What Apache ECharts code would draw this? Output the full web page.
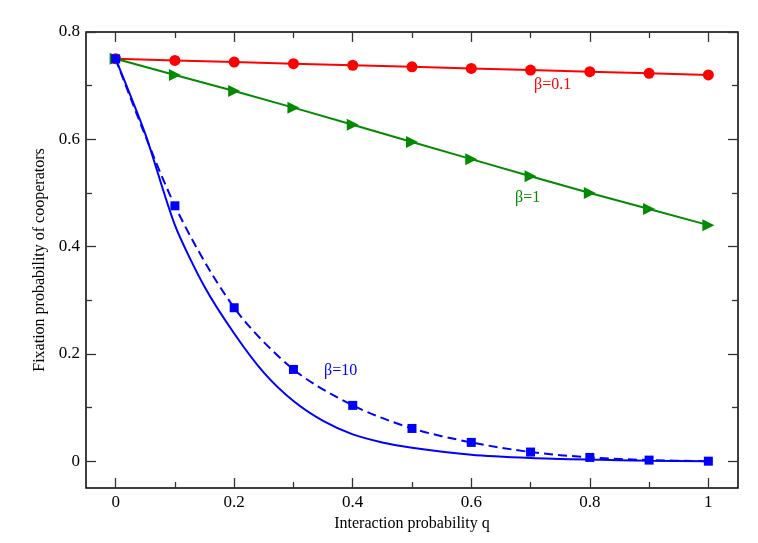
<!DOCTYPE html>
<html>
<head>
<meta charset="utf-8">
<script src="https://cdn.jsdelivr.net/npm/echarts@6/dist/echarts.min.js"></script>
<style>html,body{margin:0;padding:0;background:#fff}#c{width:758px;height:543px}</style>
</head>
<body>
<div id="c"></div>
<script>
// ---- data ----
var qValues = [0, 0.1, 0.2, 0.3, 0.4, 0.5, 0.6, 0.7, 0.8, 0.9, 1];
var beta01 = [0.75, 0.747, 0.744, 0.741, 0.738, 0.735, 0.732, 0.729, 0.726, 0.723, 0.72];
var beta1 = [0.75, 0.72, 0.69, 0.659, 0.627, 0.595, 0.563, 0.531, 0.50, 0.47, 0.44];
var beta10 = [0.75, 0.476, 0.286, 0.171, 0.104, 0.061, 0.035, 0.017, 0.007, 0.002, 0.0];
var curveQ = [0, 0.05, 0.1, 0.15, 0.2, 0.25, 0.3, 0.35, 0.4, 0.45, 0.5, 0.6, 0.7, 0.8, 0.9, 1];
var curve10 = [0.75, 0.61, 0.44, 0.325, 0.238, 0.165, 0.112, 0.075, 0.05, 0.035, 0.025, 0.012, 0.006, 0.003, 0.001, 0.0];
var xMajorTicks = [0, 0.2, 0.4, 0.6, 0.8, 1];
var xMinorTicks = [0.1, 0.3, 0.5, 0.7, 0.9];
var yMajorTicks = [0, 0.2, 0.4, 0.6, 0.8];
var yMinorTicks = [0.1, 0.3, 0.5, 0.7];

function zip(xs, ys) { return xs.map(function (x, i) { return [x, ys[i]]; }); }

var FONT = '"Liberation Serif", "DejaVu Serif", serif';
var TICK = '#333';

function xAxisDef(pos, ticks, len, withLabel) {
  return {
    type: 'value', position: pos, min: -0.05, max: 1.05,
    axisLine: { show: false, onZero: false },
    splitLine: { show: false },
    axisTick: { show: true, inside: true, length: len, customValues: ticks, lineStyle: { color: TICK, width: 1.3 } },
    axisLabel: { show: withLabel, customValues: ticks, margin: 6, fontFamily: FONT, fontSize: 17, color: '#000' },
    name: withLabel ? 'Interaction probability q' : '',
    nameLocation: 'middle', nameGap: 27,
    nameTextStyle: { fontFamily: FONT, fontSize: 16, color: '#000' }
  };
}
function yAxisDef(pos, ticks, len, withLabel) {
  return {
    type: 'value', position: pos, min: -0.05, max: 0.8,
    axisLine: { show: false, onZero: false },
    splitLine: { show: false },
    axisTick: { show: true, inside: true, length: len, customValues: ticks, lineStyle: { color: TICK, width: 1.3 } },
    axisLabel: { show: withLabel, customValues: ticks, margin: 6, fontFamily: FONT, fontSize: 17, color: '#000' },
    name: withLabel ? 'Fixation probability of cooperators' : '',
    nameLocation: 'middle', nameGap: 37, nameRotate: 90,
    nameTextStyle: { fontFamily: FONT, fontSize: 16, color: '#000' }
  };
}

var chart = echarts.init(document.getElementById('c'), null, { renderer: 'canvas' });
chart.setOption({
  animation: false,
  backgroundColor: '#fff',
  grid: { left: 86, right: 20, top: 32, bottom: 55, show: true, borderColor: '#000', borderWidth: 1.5, backgroundColor: 'transparent' },
  xAxis: [
    xAxisDef('bottom', xMajorTicks, 10, true),
    xAxisDef('bottom', xMinorTicks, 6, false),
    xAxisDef('top', xMajorTicks, 10, false),
    xAxisDef('top', xMinorTicks, 6, false)
  ],
  yAxis: [
    yAxisDef('left', yMajorTicks, 10, true),
    yAxisDef('left', yMinorTicks, 6, false),
    yAxisDef('right', yMajorTicks, 10, false),
    yAxisDef('right', yMinorTicks, 6, false)
  ],
  series: [
    {
      type: 'line', data: zip(qValues, beta01), symbol: 'circle', symbolSize: 11,
      lineStyle: { color: '#ff0000', width: 2 }, itemStyle: { color: '#ff0000' }, z: 2
    },
    {
      type: 'line', data: zip(qValues, beta1), symbol: 'triangle', symbolSize: 12, symbolRotate: -90,
      lineStyle: { color: '#008b00', width: 2 }, itemStyle: { color: '#008b00' }, z: 3
    },
    {
      type: 'line', data: zip(curveQ, curve10), symbol: 'none', smooth: 0.25,
      lineStyle: { color: '#0000ff', width: 2 }, z: 4
    },
    {
      type: 'line', data: zip(qValues, beta10), symbol: 'rect', symbolSize: 9, smooth: 0.3,
      lineStyle: { color: '#0000ff', width: 2, type: [9, 5] }, itemStyle: { color: '#0000ff' }, z: 5
    }
  ],
  graphic: [
    { type: 'text', left: 534, top: 77, style: { text: 'β=0.1', fill: '#ff0000', font: '16px ' + FONT } },
    { type: 'text', left: 515, top: 190, style: { text: 'β=1', fill: '#008b00', font: '16px ' + FONT } },
    { type: 'text', left: 324, top: 363, style: { text: 'β=10', fill: '#0000ff', font: '16px ' + FONT } }
  ]
});
</script>
</body>
</html>
